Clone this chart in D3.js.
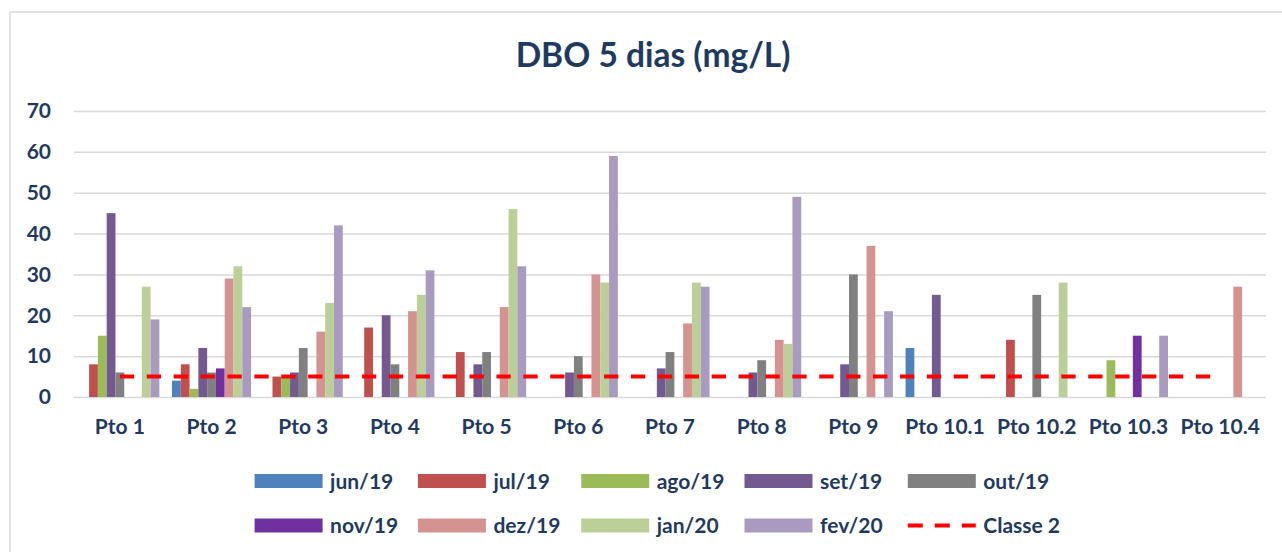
<!DOCTYPE html>
<html>
<head>
<meta charset="utf-8">
<script src="https://cdn.jsdelivr.net/npm/d3@7"></script>
<style>
  body { margin: 0; background: #fff; }
  #wrapper { width: 1282px; height: 552px; overflow: hidden; }
  text { font-family: Lato, "Open Sans", sans-serif; font-weight: bold; fill: #1F3A60; }
</style>
</head>
<body>
<div id="wrapper"></div>
<script>
// categories + series (null = no sample)
const pontos = ["Pto 1", "Pto 2", "Pto 3", "Pto 4", "Pto 5", "Pto 6", "Pto 7", "Pto 8", "Pto 9", "Pto 10.1", "Pto 10.2", "Pto 10.3", "Pto 10.4"]
const meses = ["jun/19", "jul/19", "ago/19", "set/19", "out/19", "nov/19", "dez/19", "jan/20", "fev/20"]
const cores = ["#4F81BD", "#C0504D", "#9BBB59", "#725990", "#808080", "#7030A0", "#D49391", "#BBCF98", "#A99BC0"]

const jun19 = [null, 4, null, null, null, null, null, null, null, 12, null, null, null]
const jul19 = [8, 8, 5, 17, 11, null, null, null, null, null, 14, null, null]
const ago19 = [15, 2, 5, null, null, null, null, null, null, null, null, 9, null]
const set19 = [45, 12, 6, 20, 8, 6, 7, 6, 8, 25, null, null, null]
const out19 = [6, 6, 12, 8, 11, 10, 11, 9, 30, null, 25, null, null]
const nov19 = [null, 7, null, null, null, null, null, null, null, null, null, 15, null]
const dez19 = [null, 29, 16, 21, 22, 30, 18, 14, 37, null, null, null, 27]
const jan20 = [27, 32, 23, 25, 46, 28, 28, 13, null, null, 28, null, null]
const fev20 = [19, 22, 42, 31, 32, 59, 27, 49, 21, null, null, 15, null]
const classe2 = [5, 5, 5, 5, 5, 5, 5, 5, 5, 5, 5, 5, 5]

const yTicks = [0, 10, 20, 30, 40, 50, 60, 70]

function drawChart(){
    const series = [jun19, jul19, ago19, set19, out19, nov19, dez19, jan20, fev20]

    const dimensions = {
        width: 1282,
        height: 552,
        margin: { top: 111, right: 16, bottom: 155, left: 74 }
    }
    dimensions.boundedWidth = dimensions.width - dimensions.margin.left - dimensions.margin.right
    dimensions.boundedHeight = dimensions.height - dimensions.margin.top - dimensions.margin.bottom

    const wrapper = d3.select('#wrapper')
        .append('svg')
        .attr('width', dimensions.width)
        .attr('height', dimensions.height)

    // chart frame (runs off the right / bottom of the shot)
    wrapper.append('rect')
        .attr('x', 10).attr('y', 12)
        .attr('width', 1300).attr('height', 600)
        .attr('fill', 'none')
        .attr('stroke', '#D9D9D9')
        .attr('stroke-width', 1.5)

    wrapper.append('text')
        .attr('x', 653).attr('y', 67)
        .attr('text-anchor', 'middle')
        .style('font-size', '33.5px')
        .text('DBO 5 dias (mg/L)')

    const bounds = wrapper.append('g')
        .attr('transform', `translate(${dimensions.margin.left},${dimensions.margin.top})`)

    const yScale = d3.scaleLinear()
        .domain([0, 70])
        .range([dimensions.boundedHeight, 0])

    const xScale = d3.scaleBand()
        .domain(pontos)
        .range([0, dimensions.boundedWidth])
        .paddingInner(0.138)
        .paddingOuter(0.069)

    const xInner = d3.scaleBand()
        .domain(meses)
        .range([0, xScale.bandwidth()])

    // gridlines + y labels
    const yAxis = bounds.append('g')
        .call(d3.axisLeft(yScale).tickValues(yTicks).tickSize(-dimensions.boundedWidth).tickPadding(23))
    yAxis.select('.domain').remove()
    yAxis.selectAll('line').attr('stroke', '#D9D9D9').attr('stroke-width', 1.5)
    yAxis.selectAll('text')
        .style('font-size', '21px')
        .style('font-family', 'Lato, sans-serif')
        .attr('fill', '#1F3A60')

    // bars
    const groups = bounds.selectAll('.ponto')
        .data(pontos)
        .join('g')
        .attr('class', 'ponto')
        .attr('transform', d => `translate(${xScale(d)},0)`)

    groups.selectAll('rect')
        .data((p, i) => meses.map((m, j) => ({ mes: m, valor: series[j][i], cor: cores[j] })).filter(d => d.valor != null))
        .join('rect')
        .attr('x', d => xInner(d.mes))
        .attr('width', xInner.bandwidth())
        .attr('y', d => yScale(d.valor))
        .attr('height', d => yScale(0) - yScale(d.valor))
        .attr('fill', d => d.cor)

    // x labels
    bounds.append('g')
        .selectAll('text')
        .data(pontos)
        .join('text')
        .attr('x', d => xScale(d) + xScale.bandwidth() / 2)
        .attr('y', dimensions.boundedHeight + 37)
        .attr('text-anchor', 'middle')
        .style('font-size', '21px')
        .text(d => d)

    // Classe 2 limit line
    const line = d3.line()
        .x((d, i) => xScale(pontos[i]) + xScale.bandwidth() / 2)
        .y(d => yScale(d))
    bounds.append('path')
        .datum(classe2)
        .attr('d', line)
        .attr('fill', 'none')
        .attr('stroke', '#FF0000')
        .attr('stroke-width', 4)
        .attr('stroke-dasharray', '14.3 12.6')

    // legend
    const legendItems = meses.map((m, i) => ({ nome: m, cor: cores[i], tipo: 'bar' }))
    legendItems.push({ nome: 'Classe 2', cor: '#FF0000', tipo: 'line' })

    const legend = wrapper.append('g')
        .selectAll('g')
        .data(legendItems)
        .join('g')
        .attr('transform', (d, i) => `translate(${254.6 + (i % 5) * 163.3},${481 + Math.floor(i / 5) * 44.5})`)

    legend.filter(d => d.tipo === 'bar')
        .append('rect')
        .attr('x', 0).attr('y', -7)
        .attr('width', 68).attr('height', 14)
        .attr('fill', d => d.cor)

    legend.filter(d => d.tipo === 'line')
        .append('line')
        .attr('x1', 0).attr('x2', 68)
        .attr('stroke', d => d.cor)
        .attr('stroke-width', 4)
        .attr('stroke-dasharray', '15 12')

    legend.append('text')
        .attr('x', 75.5)
        .attr('dy', '0.36em')
        .style('font-size', '21px')
        .text(d => d.nome)
}

drawChart()
</script>
</body>
</html>
